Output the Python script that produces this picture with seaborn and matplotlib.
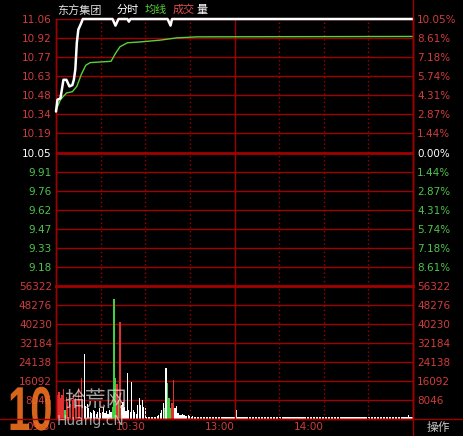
import matplotlib
matplotlib.use("Agg")
import matplotlib.pyplot as plt
from matplotlib.lines import Line2D
from matplotlib.textpath import TextPath
from matplotlib.patches import PathPatch
from matplotlib.font_manager import FontProperties
from matplotlib.transforms import Affine2D
import pandas as pd
import seaborn as sns

# ---- values ----
stock_name = "东方集团"
prev_close = 10.05

# price line (minute since 09:30, price) vertices
price_min = [0, 1, 3, 5, 7, 9, 11, 12, 13, 14, 15, 17, 18, 38, 40, 42, 48, 49, 50, 75, 77, 78, 240]
price_val = [10.36, 10.45, 10.46, 10.60, 10.60, 10.55, 10.56, 10.60, 10.68, 10.88, 10.98, 11.03, 11.06,
             11.06, 11.01, 11.06, 11.06, 11.04, 11.06, 11.06, 11.01, 11.06, 11.06]

# average price line vertices
avg_min = [0, 3, 7, 11, 14, 17, 20, 23, 37, 40, 43, 48, 57, 70, 81, 95, 240]
avg_val = [10.37, 10.45, 10.50, 10.51, 10.55, 10.64, 10.71, 10.73, 10.74, 10.80, 10.85, 10.88,
           10.887, 10.90, 10.917, 10.925, 10.928]

# per-minute volume, split by session chunks (r = up, g = down, w = flat)
vol_a = [16500, 10000, 11500, 9000, 10000, 12500, 4000, 9500, 7000, 11000,
         6500, 8000, 10500, 9000, 7500, 13000, 8500, 17500, 6000, 27500,
         5500, 6500, 4500, 3000, 2500, 4000, 3500, 2000, 3000, 4500]
tone_a = "rrrrrrgrrr" "rrrrrrrrrw" "wwwwwwwwww"
vol_b = [2500, 3000, 5000, 2500, 3500, 2000, 4000, 3000, 5000, 51000,
         17500, 15000, 8000, 41000, 6000, 7000, 5000, 3500, 19500, 4000,
         3000, 15700, 4000, 3000, 2000, 6000, 9000, 6000, 8000, 5200]
tone_b = "wwwwwwwwgg" "grgrwwwwww" "wwwwwwwwww"
vol_c = [4500, 850, 900, 800, 850, 900, 800, 850, 1200, 1500,
         2500, 3800, 6700, 4500, 21600, 15200, 8900, 4600, 6700, 16500,
         4600, 5500, 2500, 1800, 1500, 2000, 1500, 1300, 1200, 1500]
tone_c = "wwwwwwwwww" "wwwgwgggrr" "wwwwwwwwww"
vol_d = [1200, 1000, 1200, 900, 800, 850, 800, 900, 800, 750,
         800, 850, 800, 800, 750, 800, 850, 800, 900, 800,
         800, 750, 800, 850, 800, 800, 750, 800, 800, 850, 700]
tone_d = "w" * 31
vol_e = [3800, 800, 750, 800, 800, 850, 800, 750, 800, 800,
         800, 850, 800, 750, 800, 800, 800, 750, 800, 850,
         800, 800, 750, 800, 850, 800, 800, 750, 800, 800,
         850, 800, 750, 800, 800, 800, 850, 800, 750, 800,
         800, 750, 800, 850, 800, 800, 750, 800, 800, 850,
         800, 800, 750, 800, 800, 850, 800, 750, 800, 800,
         750, 800, 850, 800, 800, 750, 800, 800, 850, 800,
         800, 750, 800, 800, 850, 800, 750, 800, 800, 800,
         850, 800, 750, 800, 800, 850, 800, 800, 750, 800,
         800, 850, 800, 750, 800, 800, 800, 850, 800, 750,
         800, 800, 850, 750, 800, 800, 800, 750, 850, 800,
         800, 750, 800, 800, 850, 800, 1800, 800, 750, 800]
tone_e = "w" * 120

price_labels = ["11.06", "10.92", "10.77", "10.63", "10.48", "10.34", "10.19",
                "10.05", "9.91", "9.76", "9.62", "9.47", "9.33", "9.18"]
pct_ticks = [10.05, 8.61, 7.18, 5.74, 4.31, 2.87, 1.44, 0.0, -1.44, -2.87, -4.31, -5.74, -7.18, -8.61]
pct_labels = ["10.05%", "8.61%", "7.18%", "5.74%", "4.31%", "2.87%", "1.44%",
              "0.00%", "1.44%", "2.87%", "4.31%", "5.74%", "7.18%", "8.61%"]
vol_ticks = [8046, 16092, 24138, 32184, 40230, 48276, 56322]
time_ticks = [0, 60, 120, 180]
time_labels = ["09:30", "10:30", "13:00", "14:00"]
dotted_minutes = [30, 60, 90, 150, 180, 210]

RED_GRID = "#a00000"
RED_TXT = "#d23c3c"
GREEN_TXT = "#4cc44c"

sns.set_theme(style="dark", rc={"figure.facecolor": "black", "axes.facecolor": "black",
                                "savefig.facecolor": "black"})
plt.rcParams["font.family"] = ["DejaVu Sans", "Noto Sans CJK SC"]

fig = plt.figure(figsize=(4.63, 4.36), dpi=100)
L, W = 56 / 463, 357 / 463
ax_p = fig.add_axes([L, 150 / 436, W, 267 / 436])
ax_v = fig.add_axes([L, 17 / 436, W, 133 / 436], sharex=ax_p)

lo = prev_close * (1 - 0.1005)
hi = prev_close * (1 + 0.1005)
tick_pos = [prev_close * (1 + p / 100) for p in pct_ticks]

# ---- price panel ----
ax_p.set_ylim(lo, hi)
ax_p.set_yticks(tick_pos, price_labels)
ax_p.yaxis.grid(True, color=RED_GRID, lw=1)
ax_p.axhline(prev_close, color=RED_GRID, lw=2)
for m in dotted_minutes:
    ax_p.axvline(m, color=RED_GRID, lw=1, ls=(0, (1, 2)))
ax_p.axvline(120, color=RED_GRID, lw=1)

sns.lineplot(x=avg_min, y=avg_val, ax=ax_p, color="#5ccf3c", lw=1)
sns.lineplot(x=price_min, y=price_val, ax=ax_p, color="white", lw=1.8)
ax_p.lines[-1].set_clip_on(False)
ax_p.lines[-1].set_zorder(5)

for lab, p in zip(ax_p.get_yticklabels(), pct_ticks):
    lab.set_color(RED_TXT if p > 0 else (GREEN_TXT if p < 0 else "white"))
ax_p.tick_params(axis="y", length=0, pad=3, labelsize=7.5)
ax_p.tick_params(axis="x", length=0, labelbottom=False)

ax_pr = ax_p.twinx()
ax_pr.set_ylim(lo, hi)
ax_pr.set_yticks(tick_pos, pct_labels)
for lab, p in zip(ax_pr.get_yticklabels(), pct_ticks):
    lab.set_color(RED_TXT if p > 0 else (GREEN_TXT if p < 0 else "white"))
ax_pr.tick_params(axis="y", length=0, pad=3, labelsize=7.5)
ax_pr.grid(False)
ax_pr.set_zorder(ax_p.get_zorder() - 1)

# ---- volume panel ----
vols = vol_a + vol_b + vol_c + vol_d + vol_e
tones = list(tone_a + tone_b + tone_c + tone_d + tone_e)
df_vol = pd.DataFrame({"minute": range(len(vols)), "volume": vols, "tone": tones})
sns.barplot(data=df_vol, x="minute", y="volume", hue="tone",
            palette={"r": "#e03030", "g": "#40d040", "w": "white"},
            native_scale=True, dodge=False, legend=False, ax=ax_v,
            width=0.8, linewidth=0, saturation=1)
ax_v.set_ylim(0, 56322)
ax_v.set_yticks(vol_ticks, [str(v) for v in vol_ticks])
ax_v.yaxis.grid(True, color=RED_GRID, lw=1)
for m in dotted_minutes:
    ax_v.axvline(m, color=RED_GRID, lw=1, ls=(0, (1, 2)))
ax_v.axvline(120, color=RED_GRID, lw=1)
ax_v.tick_params(axis="y", length=0, pad=3, labelsize=7.5, labelcolor=RED_TXT)
ax_v.set_xticks(time_ticks, time_labels)
ax_v.tick_params(axis="x", length=0, pad=2, labelsize=7.5, labelcolor=RED_TXT)
for lab in ax_v.get_xticklabels():
    lab.set_ha("right")
ax_v.set_xlabel("")
ax_v.set_ylabel("")

ax_vr = ax_v.twinx()
ax_vr.set_ylim(0, 56322)
ax_vr.set_yticks(vol_ticks, [str(v) for v in vol_ticks])
ax_vr.tick_params(axis="y", length=0, pad=3, labelsize=7.5, labelcolor=RED_TXT)
ax_vr.grid(False)

ax_p.set_xlim(0, 240)

for ax in (ax_p, ax_v, ax_pr, ax_vr):
    for s in ax.spines.values():
        s.set_color(RED_GRID)
        s.set_linewidth(1)
ax_v.spines["top"].set_linewidth(2)
ax_p.spines["top"].set_visible(False)
ax_pr.spines["top"].set_visible(False)
ax_p.patch.set_visible(False)

# frame lines that run past the plot area
fig.add_artist(Line2D([413 / 463, 413 / 463], [0, 1], color=RED_GRID, lw=1))
fig.add_artist(Line2D([0, 1], [17 / 436, 17 / 436], color=RED_GRID, lw=1))

# header
hy = 1 - 10 / 436
cjk = ["Noto Sans CJK SC", "DejaVu Sans"]
fig.text(57 / 463, hy, stock_name, color="#e0e0e0", fontsize=8, va="center", family=cjk)
fig.text(117 / 463, hy, "分时", color="white", fontsize=8, va="center", family=cjk)
fig.text(145 / 463, hy, "均线", color="#5ccf3c", fontsize=8, va="center", family=cjk)
fig.text(173 / 463, hy, "成交", color="#e05050", fontsize=8, va="center", family=cjk)
fig.text(196 / 463, hy, "量", color="white", fontsize=8, va="center", family=cjk)
fig.text(427 / 463, 9 / 436, "操作", color="#c8c8c8", fontsize=8.5, va="center", family=cjk)

# site watermark in the lower-left corner: a tall narrow orange "10"
tp = TextPath((0, 0), "10", size=1, prop=FontProperties(family="Liberation Sans", weight="bold"))
wm = PathPatch(tp, transform=Affine2D().scale(40, 62).translate(8, 6), color="#f07020", alpha=0.9, lw=0)
fig.add_artist(wm)
fig.text(64 / 463, 30 / 436, "拾荒网", color="#d8d8d8", fontsize=15, family=cjk, alpha=0.75)
fig.text(57 / 463, 11 / 436, "Huang.cN", color="#d8d8d8", fontsize=10, alpha=0.75)

fig.savefig("out.png", dpi=100)
